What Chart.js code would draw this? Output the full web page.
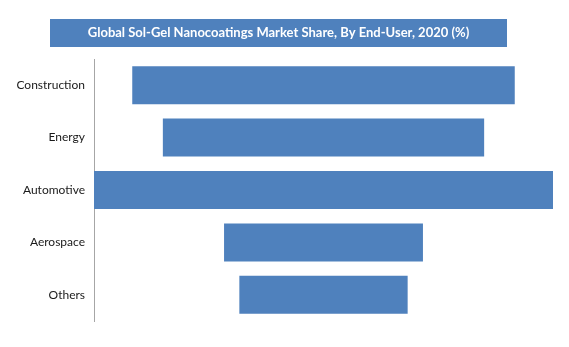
<!DOCTYPE html>
<html>
<head>
<meta charset="utf-8">
<script src="https://cdn.jsdelivr.net/npm/chart.js@4/dist/chart.umd.min.js"></script>
<style>
html,body{margin:0;padding:0;background:#fff;}
#wrap{position:relative;width:569px;height:347px;}
</style>
</head>
<body>
<div id="wrap"><canvas id="c" width="569" height="347"></canvas></div>
<script>
const titleText = "Global Sol-Gel Nanocoatings Market Share, By End-User, 2020 (%)";
const categories = ["Construction", "Energy", "Automotive", "Aerospace", "Others"];
const shareValues = [25, 21, 30, 13, 11];
const maxShare = Math.max(...shareValues);

const floating = shareValues.map(v => [(maxShare - v) / 2, (maxShare + v) / 2]);

const titleBox = {
  id: 'titleBox',
  afterDraw(chart) {
    const ctx = chart.ctx;
    ctx.save();
    ctx.fillStyle = '#4F81BD';
    ctx.fillRect(50, 19, 457, 28);
    ctx.fillStyle = '#ffffff';
    ctx.font = 'bold 13px Lato, "Open Sans", sans-serif';
    ctx.textAlign = 'center';
    ctx.textBaseline = 'middle';
    ctx.fillText(titleText, 278.5, 33);
    ctx.restore();
  }
};

new Chart(document.getElementById('c'), {
  type: 'bar',
  data: {
    labels: categories,
    datasets: [{
      data: floating,
      backgroundColor: '#4F81BD',
      borderWidth: 0,
      barPercentage: 0.725,
      categoryPercentage: 1.0
    }]
  },
  options: {
    indexAxis: 'y',
    responsive: false,
    animation: false,
    layout: { padding: { top: 59, right: 16, bottom: 26, left: 0 } },
    plugins: {
      legend: { display: false },
      title: { display: false },
      tooltip: { enabled: false }
    },
    scales: {
      x: {
        min: 0, max: maxShare,
        display: false
      },
      y: {
        grid: { display: false, drawTicks: false },
        border: { display: true, color: '#A6A6A6', width: 1 },
        ticks: {
          color: '#1a1a1a',
          font: { family: 'Lato, "Open Sans", sans-serif', size: 12 },
          padding: 9
        },
        afterFit(scale) { scale.width = 94; }
      }
    }
  },
  plugins: [titleBox]
});
</script>
</body>
</html>
